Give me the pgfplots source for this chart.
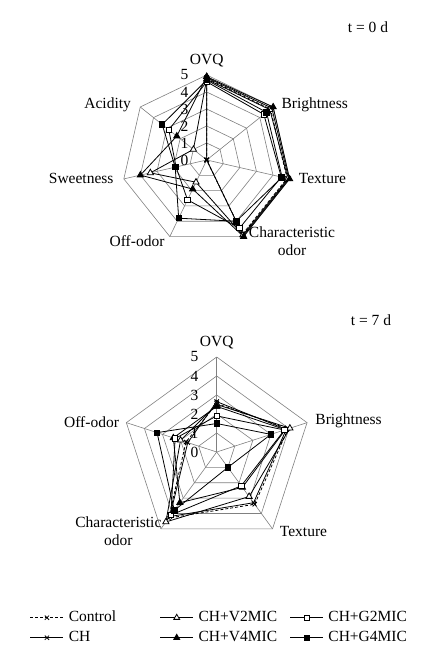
\documentclass[border=0pt]{standalone}
\usepackage{fontspec}
\setmainfont{Liberation Serif}
\usepackage{pgfplots}
\pgfplotsset{compat=1.18}
\usepgfplotslibrary{polar}

\definecolor{gridgray}{RGB}{128,128,128}

\pgfplotsset{
  radar/.style={
    scale only axis, hide axis, clip=false,
    xmin=0, xmax=360, ymin=0, ymax=5,
  },
  gridline/.style={gridgray, line width=0.6pt, no marks, forget plot},
  sbase/.style={black, line width=0.8pt, forget plot},
  sControl/.style={sbase, dash pattern=on 3pt off 2pt, mark=x, mark size=3pt, mark options={solid}},
  sCH/.style={sbase, mark=x, mark size=3pt},
  sV2/.style={sbase, mark=triangle*, mark size=3.6pt, mark options={fill=white}},
  sV4/.style={sbase, mark=triangle*, mark size=3.6pt, mark options={fill=black}},
  sG2/.style={sbase, mark=square*, mark size=2.7pt, mark options={fill=white}},
  sG4/.style={sbase, mark=square*, mark size=2.7pt, mark options={fill=black}},
}

\begin{document}
\fontsize{15.5}{18}\selectfont
\begin{tikzpicture}
\path[use as bounding box] (0pt,0pt) rectangle (421pt,660pt);

\node at (368pt,633pt) {t = 0 d};
\node at (371pt,340pt) {t = 7 d};

% ---------- t = 0 d, seven attributes ----------
% angles: OVQ 90, Brightness 38.571, Texture 347.143, Characteristic odor 295.714,
%         Off-odor 244.286, Sweetness 192.857, Acidity 141.429
\begin{polaraxis}[radar, at={(206.7pt,500pt)}, anchor=center, width=170pt, height=170pt]
  \addplot[gridline] coordinates {(90,1) (38.571,1) (347.143,1) (295.714,1) (244.286,1) (192.857,1) (141.429,1) (90,1)};
  \addplot[gridline] coordinates {(90,2) (38.571,2) (347.143,2) (295.714,2) (244.286,2) (192.857,2) (141.429,2) (90,2)};
  \addplot[gridline] coordinates {(90,3) (38.571,3) (347.143,3) (295.714,3) (244.286,3) (192.857,3) (141.429,3) (90,3)};
  \addplot[gridline] coordinates {(90,4) (38.571,4) (347.143,4) (295.714,4) (244.286,4) (192.857,4) (141.429,4) (90,4)};
  \addplot[gridline] coordinates {(90,5) (38.571,5) (347.143,5) (295.714,5) (244.286,5) (192.857,5) (141.429,5) (90,5)};
  \addplot[gridline] coordinates {(90,0) (90,5)};
  \addplot[gridline] coordinates {(38.571,0) (38.571,5)};
  \addplot[gridline] coordinates {(347.143,0) (347.143,5)};
  \addplot[gridline] coordinates {(295.714,0) (295.714,5)};
  \addplot[gridline] coordinates {(244.286,0) (244.286,5)};
  \addplot[gridline] coordinates {(192.857,0) (192.857,5)};
  \addplot[gridline] coordinates {(141.429,0) (141.429,5)};

  \addplot[sControl] coordinates {(90,4.8) (38.571,4.8) (347.143,4.85) (295.714,4.85) (244.286,0) (192.857,0) (141.429,0) (90,4.8)};
  \addplot[sCH] coordinates {(90,4.85) (38.571,4.9) (347.143,4.95) (295.714,4.95) (244.286,0) (192.857,0) (141.429,0) (90,4.85)};
  \addplot[sV2] coordinates {(90,4.75) (38.571,4.75) (347.143,4.9) (295.714,4.9) (244.286,1.45) (192.857,3.4) (141.429,1.0) (90,4.75)};
  \addplot[sV4] coordinates {(90,4.9) (38.571,5.0) (347.143,5.0) (295.714,5.0) (244.286,1.9) (192.857,4.0) (141.429,2.25) (90,4.9)};
  \addplot[sG2] coordinates {(90,4.6) (38.571,4.3) (347.143,4.5) (295.714,4.45) (244.286,2.6) (192.857,1.85) (141.429,2.85) (90,4.6)};
  \addplot[sG4] coordinates {(90,4.7) (38.571,4.5) (347.143,4.55) (295.714,4.0) (244.286,3.8) (192.857,1.9) (141.429,3.35) (90,4.7)};

  \node[anchor=east, xshift=-13pt] at (axis cs:90,0) {0};
  \node[anchor=east, xshift=-13pt] at (axis cs:90,1) {1};
  \node[anchor=east, xshift=-13pt] at (axis cs:90,2) {2};
  \node[anchor=east, xshift=-13pt] at (axis cs:90,3) {3};
  \node[anchor=east, xshift=-13pt] at (axis cs:90,4) {4};
  \node[anchor=east, xshift=-13pt] at (axis cs:90,5) {5};

  \node[anchor=south, yshift=3pt] at (axis cs:90,5) {OVQ};
  \node[anchor=west, xshift=3pt, yshift=2pt] at (axis cs:38.571,5) {Brightness};
  \node[anchor=west, xshift=4pt] at (axis cs:347.143,5) {Texture};
  \node[align=center, inner sep=0pt] at (axis cs:316.5,6.92) {Characteristic\\odor};
  \node[anchor=east, yshift=-5pt] at (axis cs:244.286,5) {Off-odor};
  \node[anchor=east, xshift=-5pt] at (axis cs:192.857,5) {Sweetness};
  \node[anchor=east, xshift=-4pt, yshift=2pt] at (axis cs:141.429,5) {Acidity};
\end{polaraxis}

% ---------- t = 7 d, five attributes ----------
% angles: OVQ 90, Brightness 18, Texture 306, Characteristic odor 234, Off-odor 162
\begin{polaraxis}[radar, at={(216.7pt,208pt)}, anchor=center, width=190pt, height=190pt]
  \addplot[gridline] coordinates {(90,1) (18,1) (306,1) (234,1) (162,1) (90,1)};
  \addplot[gridline] coordinates {(90,2) (18,2) (306,2) (234,2) (162,2) (90,2)};
  \addplot[gridline] coordinates {(90,3) (18,3) (306,3) (234,3) (162,3) (90,3)};
  \addplot[gridline] coordinates {(90,4) (18,4) (306,4) (234,4) (162,4) (90,4)};
  \addplot[gridline] coordinates {(90,5) (18,5) (306,5) (234,5) (162,5) (90,5)};
  \addplot[gridline] coordinates {(90,0) (90,5)};
  \addplot[gridline] coordinates {(18,0) (18,5)};
  \addplot[gridline] coordinates {(306,0) (306,5)};
  \addplot[gridline] coordinates {(234,0) (234,5)};
  \addplot[gridline] coordinates {(162,0) (162,5)};

  \addplot[sControl] coordinates {(90,2.55) (18,3.95) (306,3.4) (234,4.3) (162,1.7) (90,2.55)};
  \addplot[sCH] coordinates {(90,2.65) (18,3.85) (306,3.3) (234,4.2) (162,1.6) (90,2.65)};
  \addplot[sV2] coordinates {(90,2.5) (18,4.05) (306,2.9) (234,4.55) (162,2.0) (90,2.5)};
  \addplot[sV4] coordinates {(90,2.4) (18,3.8) (306,2.3) (234,3.3) (162,2.4) (90,2.4)};
  \addplot[sG2] coordinates {(90,1.9) (18,3.75) (306,2.2) (234,4.1) (162,2.3) (90,1.9)};
  \addplot[sG4] coordinates {(90,1.5) (18,3.0) (306,1.0) (234,3.8) (162,3.3) (90,1.5)};

  \node[anchor=east, xshift=-13pt] at (axis cs:90,0) {0};
  \node[anchor=east, xshift=-13pt] at (axis cs:90,1) {1};
  \node[anchor=east, xshift=-13pt] at (axis cs:90,2) {2};
  \node[anchor=east, xshift=-13pt] at (axis cs:90,3) {3};
  \node[anchor=east, xshift=-13pt] at (axis cs:90,4) {4};
  \node[anchor=east, xshift=-13pt] at (axis cs:90,5) {5};

  \node[anchor=south, yshift=3pt] at (axis cs:90,5) {OVQ};
  \node[anchor=west, xshift=3pt, yshift=2pt] at (axis cs:18,5) {Brightness};
  \node[anchor=west, xshift=2pt, yshift=-3pt] at (axis cs:306,5) {Texture};
  \node[align=center, inner sep=0pt] at (axis cs:218.8,6.64) {Characteristic\\odor};
  \node[anchor=east, xshift=-2pt, yshift=1pt] at (axis cs:162,5) {Off-odor};
\end{polaraxis}

% ---------- legend ----------
\begin{axis}[
  at={(0pt,0pt)}, anchor=south west, scale only axis, width=421pt, height=60pt,
  hide axis, xmin=0, xmax=1, ymin=0, ymax=1,
  legend columns=3,
  legend image code/.code={\draw[mark repeat=2, mark phase=2, #1] plot coordinates {(0pt,0pt) (16.5pt,0pt) (33pt,0pt)};},
  legend style={at={(0.0713,0.83)}, anchor=north west, draw=none, fill=none,
    inner sep=0pt, outer sep=0pt, row sep=5pt, column sep=5pt,
    nodes={inner sep=0pt, text height=11pt, text depth=4pt, anchor=west}},
]
  \addlegendimage{black, line width=0.8pt, dash pattern=on 3pt off 2pt, mark=x, mark size=3pt, mark options={solid}}
  \addlegendentry{\makebox[86pt][l]{Control}}
  \addlegendimage{black, line width=0.8pt, mark=triangle*, mark size=3.4pt, mark options={fill=white}}
  \addlegendentry{\makebox[86pt][l]{CH+V2MIC}}
  \addlegendimage{black, line width=0.8pt, mark=square*, mark size=2.4pt, mark options={fill=white}}
  \addlegendentry{CH+G2MIC}
  \addlegendimage{black, line width=0.8pt, mark=x, mark size=3pt}
  \addlegendentry{\makebox[86pt][l]{CH}}
  \addlegendimage{black, line width=0.8pt, mark=triangle*, mark size=3.4pt, mark options={fill=black}}
  \addlegendentry{\makebox[86pt][l]{CH+V4MIC}}
  \addlegendimage{black, line width=0.8pt, mark=square*, mark size=2.4pt, mark options={fill=black}}
  \addlegendentry{CH+G4MIC}
\end{axis}
\end{tikzpicture}
\end{document}
